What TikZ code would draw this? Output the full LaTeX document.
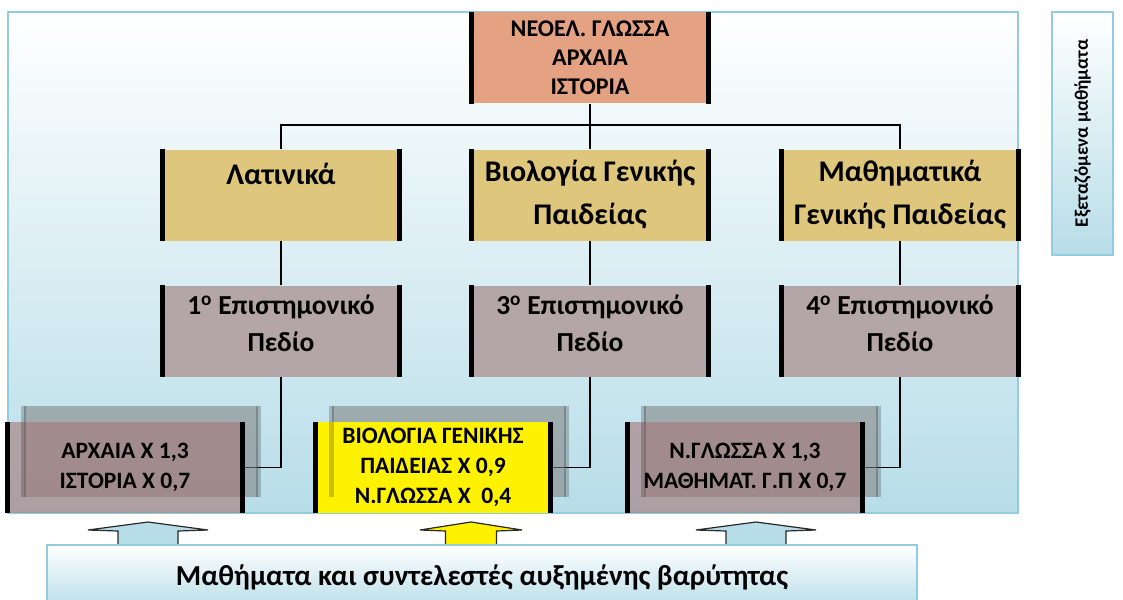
\documentclass[tikz,border=0pt]{standalone}
\usepackage{fontspec}
\setmainfont{Carlito}
\definecolor{frameblue}{RGB}{147,205,221}
\definecolor{paleblue}{RGB}{183,221,232}
\definecolor{salmon}{RGB}{228,162,130}
\definecolor{sand}{RGB}{222,198,124}
\definecolor{mauve}{RGB}{180,165,168}
\definecolor{rosegrey}{RGB}{166,119,119}
\definecolor{inkgrey}{RGB}{40,40,40}

\begin{document}
\begin{tikzpicture}[x=1pt, y=-1pt,
		box/.style={minimum width=237pt, minimum height=91pt, inner sep=0pt, align=center, text=black},
		lowbox/.style={minimum width=234pt, minimum height=91pt, inner sep=0pt, align=center, text=black,
			font=\bfseries\fontsize{23.5}{30}\selectfont},
		shade box/.style={lowbox, fill=gray, fill opacity=0.57},
		bar/.style={line width=5pt},
		link/.style={line width=1.2pt}]
		\useasboundingbox (0,0) rectangle (1123,599);
		%frame
		\draw[frameblue, line width=2pt, top color=white, bottom color=paleblue] (8,12) rectangle (1018,513);
		%top
		\node[box, fill=salmon, font=\bfseries\fontsize{24}{29}\selectfont] (top) at (590,58) {ΝΕΟΕΛ. ΓΛΩΣΣΑ\\ΑΡΧΑΙΑ\\ΙΣΤΟΡΙΑ};
		%subjects
		\node[box, fill=sand, font=\bfseries\fontsize{30}{43}\selectfont] (lat) at (281,195) {Λατινικά\\\mbox{}};
		\node[box, fill=sand, font=\bfseries\fontsize{30}{43}\selectfont] (bio) at (590,195) {Βιολογία Γενικής\\Παιδείας};
		\node[box, fill=sand, font=\bfseries\fontsize{30}{43}\selectfont] (mat) at (900,195) {Μαθηματικά\\Γενικής Παιδείας};
		%fields
		\node[box, fill=mauve, font=\bfseries\fontsize{27.5}{37}\selectfont] (f1) at (281,331) {1\textsuperscript{o} Επιστημονικό\\Πεδίο\\[-21pt]\mbox{}};
		\node[box, fill=mauve, font=\bfseries\fontsize{27.5}{37}\selectfont] (f3) at (590,331) {3\textsuperscript{o} Επιστημονικό\\Πεδίο\\[-21pt]\mbox{}};
		\node[box, fill=mauve, font=\bfseries\fontsize{27.5}{37}\selectfont] (f4) at (900,331) {4\textsuperscript{o} Επιστημονικό\\Πεδίο\\[-21pt]\mbox{}};
		%links
		\coordinate (bus) at (590,125);
		\coordinate (e1) at (242,467.5);
		\coordinate (e2) at (550,467.5);
		\coordinate (e3) at (862,467.5);
		\draw[link] (top) -- (bio);
		\draw[link] (lat.north) |- (bus) -| (mat.north);
		\draw[link] (lat) -- (f1);
		\draw[link] (bio) -- (f3);
		\draw[link] (mat) -- (f4);
		\draw[link] (f1.south) |- (e1);
		\draw[link] (f3.south) |- (e2);
		\draw[link] (f4.south) |- (e3);
		%weights
		\node[shade box] (s1) at (141,451.5) {};
		\node[shade box] (s2) at (449,451.5) {};
		\node[shade box] (s3) at (761,451.5) {};
		\node[lowbox, fill=rosegrey, fill opacity=0.6, text opacity=1] (b1) at (125,467.5) {ΑΡΧΑΙΑ Χ 1,3\\ΙΣΤΟΡΙΑ Χ 0,7};
		\node[lowbox, fill=yellow] (b2) at (433,467.5) {ΒΙΟΛΟΓΙΑ ΓΕΝΙΚΗΣ\\ΠΑΙΔΕΙΑΣ Χ 0,9\\Ν.ΓΛΩΣΣΑ Χ\ \ 0,4};
		\node[lowbox, fill=rosegrey, fill opacity=0.6, text opacity=1] (b3) at (745,467.5) {Ν.ΓΛΩΣΣΑ Χ 1,3\\ΜΑΘΗΜΑΤ. Γ.Π Χ 0,7};
		%side bars
		\foreach \n in {s1,s2,s3}
			\draw[bar, opacity=0.2] (\n.north west) -- (\n.south west) (\n.north east) -- (\n.south east);
		\foreach \n in {top,lat,bio,mat,f1,f3,f4,b1,b2,b3}
			\draw[bar] (\n.north west) -- (\n.south west) (\n.north east) -- (\n.south east);
		%arrows
		\foreach \cx/\w/\col in {148/1/paleblue, 471/0.85/yellow, 756/1/paleblue}
			\draw[inkgrey, line width=1.2pt, fill=\col] (\cx-30*\w,545) -- (\cx-30*\w,531) -- (\cx-60*\w,530) -- (\cx,522)
				-- (\cx+60*\w,530) -- (\cx+30*\w,531) -- (\cx+30*\w,545) -- cycle;
		%base
		\node[draw=frameblue, line width=2pt, top color=white, bottom color=paleblue, minimum width=870pt, minimum height=64pt,
			inner sep=0pt, font=\bfseries\fontsize{29}{34}\selectfont] (base) at (482,577) {Μαθήματα και συντελεστές αυξημένης βαρύτητας};
		%side label
		\node[draw=frameblue, line width=2pt, top color=white, bottom color=paleblue, minimum width=243pt, minimum height=61pt,
			inner sep=0pt, rotate=90, font=\bfseries\fontsize{19}{23}\selectfont] (side) at (1082.5,133.5) {Εξεταζόμενα μαθήματα};
	\end{tikzpicture}
\end{document}
